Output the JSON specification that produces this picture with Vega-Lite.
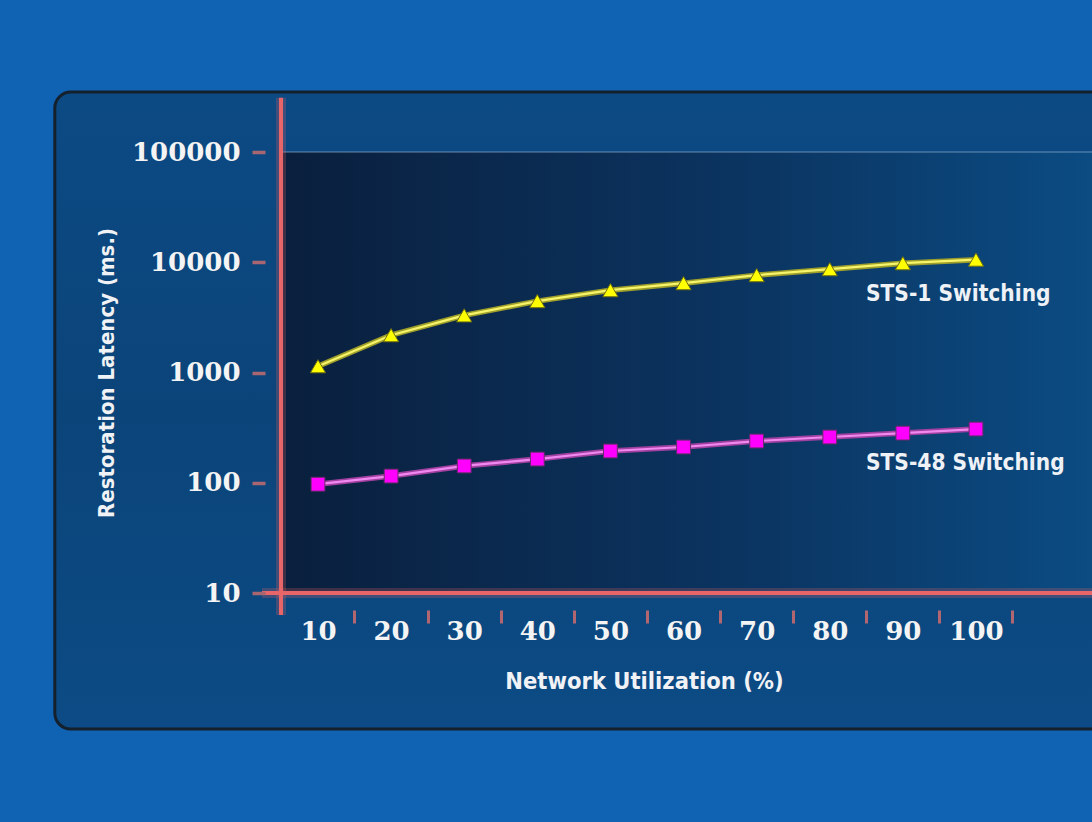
{
  "$schema": "https://vega.github.io/schema/vega-lite/v6.json",
  "autosize": {"type": "none"},
  "padding": {"left": 281, "top": 152, "right": 0, "bottom": 229},
  "width": 811,
  "height": 441,
  "background": "#1062b3",
  "config": {"view": {"stroke": null}},
  "data": {"values": [
    {"series": "STS-1 Switching", "util": 10, "latency": 1140},
    {"series": "STS-1 Switching", "util": 20, "latency": 2180},
    {"series": "STS-1 Switching", "util": 30, "latency": 3300},
    {"series": "STS-1 Switching", "util": 40, "latency": 4440},
    {"series": "STS-1 Switching", "util": 50, "latency": 5580},
    {"series": "STS-1 Switching", "util": 60, "latency": 6460},
    {"series": "STS-1 Switching", "util": 70, "latency": 7640},
    {"series": "STS-1 Switching", "util": 80, "latency": 8650},
    {"series": "STS-1 Switching", "util": 90, "latency": 9800},
    {"series": "STS-1 Switching", "util": 100, "latency": 10560},
    {"series": "STS-48 Switching", "util": 10, "latency": 97},
    {"series": "STS-48 Switching", "util": 20, "latency": 115},
    {"series": "STS-48 Switching", "util": 30, "latency": 142},
    {"series": "STS-48 Switching", "util": 40, "latency": 164},
    {"series": "STS-48 Switching", "util": 50, "latency": 194},
    {"series": "STS-48 Switching", "util": 60, "latency": 211},
    {"series": "STS-48 Switching", "util": 70, "latency": 239},
    {"series": "STS-48 Switching", "util": 80, "latency": 260},
    {"series": "STS-48 Switching", "util": 90, "latency": 282},
    {"series": "STS-48 Switching", "util": 100, "latency": 307}
  ]},
  "layer": [
    {
      "data": {"values": [{}]},
      "mark": {"type": "rect", "clip": false, "cornerRadius": 16, "fill": {"gradient": "linear", "x1": 0, "y1": 0, "x2": 0, "y2": 1, "stops": [{"offset": 0, "color": "#0c4a84"}, {"offset": 0.5, "color": "#0b4479"}, {"offset": 1, "color": "#0c4b85"}]}, "stroke": "#14202c", "strokeWidth": 3},
      "encoding": {
        "x": {"datum": -26, "type": "quantitative", "scale": {"domain": [4.94, 115.87], "nice": false, "zero": false},
          "axis": {
            "zindex": 2,
            "values": [10, 20, 30, 40, 50, 60, 70, 80, 90, 100],
            "title": "Network Utilization (%)",
            "domain": false, "grid": false, "offset": 17,
            "tickSize": 13, "tickWidth": 3, "tickColor": "#b26670",
            "tickOffset": 36.5, "labelOffset": -36.5,
            "labelFont": "DejaVu Serif", "labelFontWeight": "bold", "labelFontSize": 26,
            "labelColor": "#f4f4f4", "labelPadding": -5, "labelFlush": false, "labelOverlap": false,
            "titleFont": "DejaVu Sans Condensed, Open Sans, sans-serif", "titleFontSize": 23.5, "titleFontWeight": "bold",
            "titleColor": "#f0f2f5", "titlePadding": 25, "titleX": 363
          }
        },
        "x2": {"datum": 135},
        "y": {"datum": 350000, "type": "quantitative", "scale": {"type": "log", "domain": [10, 100000], "nice": false},
          "axis": {
            "zindex": 2,
            "values": [10, 100, 1000, 10000, 100000],
            "format": "d",
            "title": "Restoration Latency (ms.)",
            "domain": false, "grid": false, "offset": 16,
            "tickSize": 13, "tickWidth": 3.5, "tickColor": "#a86670",
            "labelFont": "DejaVu Serif", "labelFontWeight": "bold", "labelFontSize": 26,
            "labelColor": "#f4f4f4", "labelPadding": 12, "labelFlush": false, "labelOverlap": false,
            "titleFont": "DejaVu Sans Condensed, Open Sans, sans-serif", "titleFontSize": 22, "titleFontWeight": "bold",
            "titleColor": "#f0f2f5", "titlePadding": 13
          }
        },
        "y2": {"datum": 0.584}
      }
    },
    {
      "data": {"values": [{}]},
      "mark": {"type": "rect", "clip": false, "fill": {"gradient": "linear", "x1": 0, "y1": 0, "x2": 1, "y2": 0, "stops": [{"offset": 0, "color": "#0a1f3d"}, {"offset": 0.5, "color": "#0b3562"}, {"offset": 1, "color": "#0b5590"}]}},
      "encoding": {
        "x": {"datum": 4.94, "type": "quantitative"},
        "x2": {"datum": 135},
        "y": {"datum": 10, "type": "quantitative"},
        "y2": {"datum": 100000}
      }
    },
    {
      "data": {"values": [{}]},
      "mark": {"type": "rule", "clip": false, "color": "#8fb0d0", "strokeWidth": 1, "opacity": 0.7},
      "encoding": {
        "x": {"datum": 4.94, "type": "quantitative"},
        "x2": {"datum": 135},
        "y": {"datum": 100000, "type": "quantitative"}
      }
    },
    {
      "data": {"values": [{}]},
      "mark": {"type": "rule", "clip": false, "color": "#e06060", "strokeWidth": 10, "opacity": 0.25},
      "encoding": {
        "x": {"datum": 4.94, "type": "quantitative"},
        "y": {"datum": 6.3, "type": "quantitative"},
        "y2": {"datum": 310000}
      }
    },
    {
      "data": {"values": [{}]},
      "mark": {"type": "rule", "clip": false, "color": "#e06060", "strokeWidth": 10, "opacity": 0.25},
      "encoding": {
        "x": {"datum": 2.34, "type": "quantitative"},
        "x2": {"datum": 135},
        "y": {"datum": 10, "type": "quantitative"}
      }
    },
    {
      "data": {"values": [{}]},
      "mark": {"type": "rule", "clip": false, "color": "#e8666a", "strokeWidth": 4},
      "encoding": {
        "x": {"datum": 4.94, "type": "quantitative"},
        "y": {"datum": 6.3, "type": "quantitative"},
        "y2": {"datum": 310000}
      }
    },
    {
      "data": {"values": [{}]},
      "mark": {"type": "rule", "clip": false, "color": "#e8666a", "strokeWidth": 4},
      "encoding": {
        "x": {"datum": 2.34, "type": "quantitative"},
        "x2": {"datum": 135},
        "y": {"datum": 10, "type": "quantitative"}
      }
    },
    {
      "mark": {"type": "line", "clip": false, "strokeWidth": 5.5},
      "encoding": {
        "detail": {"field": "series"},
        "color": {"field": "series", "type": "nominal", "scale": {"domain": ["STS-1 Switching", "STS-48 Switching"], "range": ["#9e9e2a", "#a040a0"]}, "legend": null},
        "x": {"field": "util", "type": "quantitative"},
        "y": {"field": "latency", "type": "quantitative"}
      }
    },
    {
      "mark": {"type": "line", "clip": false, "strokeWidth": 2.2},
      "encoding": {
        "detail": {"field": "series"},
        "stroke": {"field": "series", "type": "nominal", "scale": {"domain": ["STS-1 Switching", "STS-48 Switching"], "range": ["#f6f46a", "#f088f0"]}, "legend": null},
        "x": {"field": "util", "type": "quantitative"},
        "y": {"field": "latency", "type": "quantitative"}
      }
    },
    {
      "mark": {"type": "point", "filled": true, "clip": false, "opacity": 1, "strokeWidth": 1},
      "encoding": {
        "shape": {"field": "series", "type": "nominal", "scale": {"domain": ["STS-1 Switching", "STS-48 Switching"], "range": ["triangle-up", "square"]}, "legend": null},
        "size": {"field": "series", "type": "nominal", "scale": {"domain": ["STS-1 Switching", "STS-48 Switching"], "range": [230, 190]}, "legend": null},
        "fill": {"field": "series", "type": "nominal", "scale": {"domain": ["STS-1 Switching", "STS-48 Switching"], "range": ["#ffff00", "#ff00ff"]}, "legend": null},
        "stroke": {"field": "series", "type": "nominal", "scale": {"domain": ["STS-1 Switching", "STS-48 Switching"], "range": ["#6e6e10", "#6a2a6a"]}, "legend": null},
        "x": {"field": "util", "type": "quantitative"},
        "y": {"field": "latency", "type": "quantitative"}
      },
      "resolve": {"scale": {"stroke": "independent"}}
    },
    {
      "transform": [{"filter": "datum.util == 100"}],
      "mark": {"type": "text", "clip": false, "align": "left", "baseline": "middle", "dx": -110, "dy": 34, "font": "DejaVu Sans Condensed, Open Sans, sans-serif", "fontWeight": "bold", "fontSize": 22.5, "color": "#eef2f7"},
      "encoding": {
        "text": {"field": "series"},
        "x": {"field": "util", "type": "quantitative"},
        "y": {"field": "latency", "type": "quantitative"}
      }
    }
  ],
  "resolve": {"scale": {"stroke": "independent", "color": "independent"}}
}
